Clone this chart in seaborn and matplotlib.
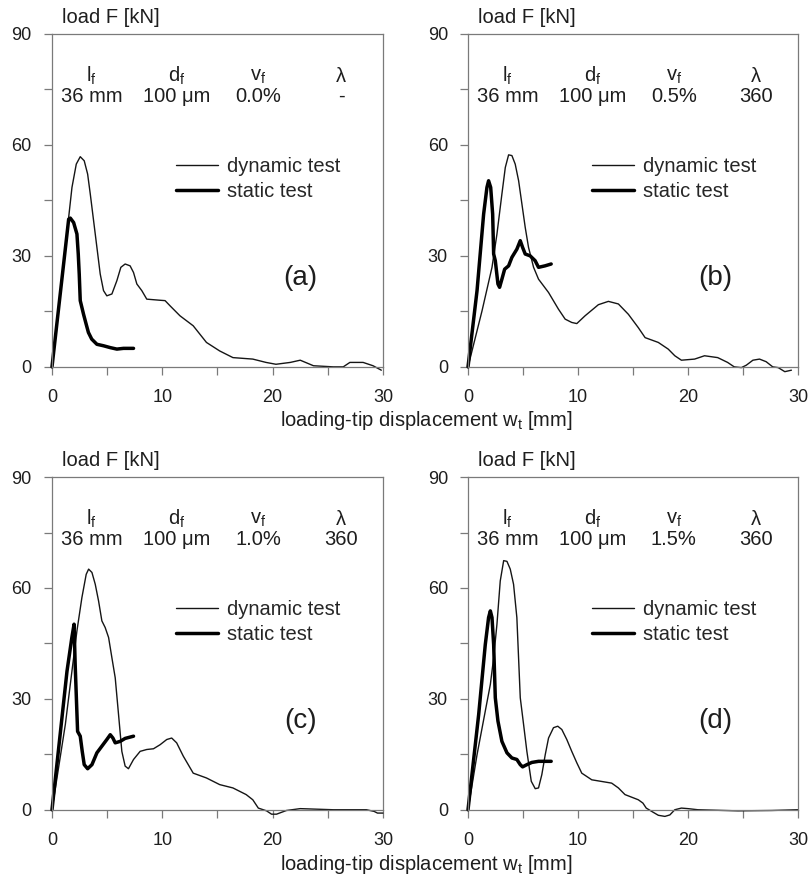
import numpy as np
import pandas as pd
import matplotlib
matplotlib.use("Agg")
import matplotlib.pyplot as plt
from matplotlib.ticker import MultipleLocator
import seaborn as sns

# ---------------- data ----------------
panels = ["(a)", "(b)", "(c)", "(d)"]
vf_labels = ["0.0%", "0.5%", "1.0%", "1.5%"]
lam_labels = ["-", "360", "360", "360"]

dyn_a_x = [0, 1.51, 1.81, 2.2, 2.56, 2.92, 3.23, 3.47, 3.77, 4.07, 4.37, 4.67, 4.97, 5.43, 5.88, 6.24, 6.63, 7.08, 7.39, 7.69, 8.14, 8.59, 9.8, 10.25, 10.7, 11.6, 12.8, 14.0, 15.2, 16.4, 18.2, 19.4, 20.3, 21.6, 22.5, 23.7, 25.5, 26.4, 27.0, 28.2, 29.1, 29.85]
dyn_a_y = [0, 40.4, 48.5, 54.8, 56.8, 55.7, 52.1, 46.7, 39.5, 32.3, 25.1, 20.6, 19.2, 19.7, 23.3, 26.9, 27.8, 27.3, 25.5, 22.4, 20.6, 18.3, 18.0, 17.9, 16.5, 13.8, 11.1, 6.6, 4.3, 2.5, 2.1, 1.2, 0.7, 1.2, 1.8, 0.3, 0, 0, 1.2, 1.2, 0.3, -0.9]
sta_a_x = [0, 1.51, 1.66, 1.96, 2.26, 2.38, 2.47, 2.56, 2.86, 3.1, 3.3, 3.6, 4.07, 4.67, 5.28, 5.88, 6.48, 7.39]
sta_a_y = [0, 39.9, 40.2, 39.0, 35.9, 30.5, 25.0, 17.9, 14.2, 11.5, 9.3, 7.5, 6.1, 5.7, 5.2, 4.8, 5.0, 5.0]

dyn_b_x = [0, 1.27, 2.18, 2.63, 3.08, 3.39, 3.69, 3.99, 4.29, 4.6, 4.9, 5.2, 5.5, 5.96, 6.41, 7.32, 8.22, 8.83, 9.43, 9.89, 10.64, 11.85, 12.76, 13.67, 14.58, 15.48, 16.1, 17.3, 18.2, 18.8, 19.4, 20.6, 21.5, 22.7, 23.6, 24.2, 24.85, 25.3, 25.9, 26.5, 27.1, 27.7, 28.2, 28.8, 29.4]
dyn_b_y = [0, 15.1, 26.9, 35.9, 46.7, 53.9, 57.3, 57.1, 54.8, 50.3, 44.0, 37.7, 32.3, 26.9, 23.7, 20.1, 15.6, 12.9, 12.0, 11.7, 13.8, 16.8, 17.7, 17.0, 14.2, 10.6, 7.9, 6.6, 4.8, 3.0, 1.8, 2.1, 3.0, 2.5, 1.2, 0, -0.2, 0.45, 1.8, 2.1, 1.4, 0, -0.2, -1.3, -0.9]
sta_b_x = [0, 0.82, 1.42, 1.72, 1.87, 2.06, 2.24, 2.33, 2.48, 2.72, 2.87, 3.08, 3.33, 3.69, 3.99, 4.44, 4.75, 4.96, 5.2, 5.65, 6.1, 6.41, 7.0, 7.56]
sta_b_y = [0, 20.6, 41.3, 48.5, 50.3, 48.5, 41.3, 30.5, 28.7, 22.4, 21.5, 23.7, 26.4, 27.3, 29.6, 31.8, 34.1, 32.3, 30.5, 30.0, 28.7, 26.9, 27.3, 27.8]

dyn_c_x = [0, 1.21, 2.26, 2.71, 3.1, 3.32, 3.62, 3.92, 4.22, 4.52, 4.82, 5.13, 5.43, 5.73, 6.03, 6.33, 6.63, 6.93, 7.39, 7.99, 8.59, 9.2, 9.8, 10.4, 10.85, 11.3, 11.9, 12.8, 14.0, 15.2, 16.4, 17.6, 18.2, 18.7, 19.45, 19.9, 20.35, 21.25, 22.5, 25.5, 28.5, 29.2, 29.5, 30.0]
dyn_c_y = [0, 23.1, 48.4, 57.4, 63.7, 65.1, 64.2, 61.0, 56.5, 51.1, 49.3, 46.6, 41.1, 35.7, 25.8, 15.8, 11.8, 11.1, 13.6, 15.8, 16.3, 16.5, 17.6, 19.0, 19.4, 18.1, 14.5, 9.9, 8.6, 6.8, 5.9, 4.1, 2.7, 0.45, -0.3, -1.2, -1.2, -0.2, 0.3, 0, 0, -0.45, -0.9, -0.9]
sta_c_x = [0, 1.36, 1.8, 2.0, 2.1, 2.23, 2.32, 2.56, 2.74, 2.92, 3.23, 3.62, 4.07, 4.52, 4.97, 5.28, 5.52, 5.73, 6.18, 6.63, 7.39]
sta_c_y = [0, 37.5, 46.6, 50.2, 39.3, 28.5, 21.2, 19.9, 15.8, 12.2, 11.1, 12.2, 15.4, 17.2, 19.0, 20.3, 19.4, 18.1, 18.5, 19.3, 19.9]

dyn_d_x = [0, 0.82, 1.57, 2.03, 2.33, 2.63, 2.93, 3.24, 3.54, 3.84, 4.14, 4.44, 4.75, 5.05, 5.35, 5.75, 6.11, 6.41, 6.71, 7.02, 7.32, 7.77, 8.16, 8.53, 8.98, 9.43, 9.89, 10.34, 11.25, 12.46, 13.06, 13.67, 14.27, 15.48, 15.9, 16.2, 16.7, 17.3, 17.9, 18.35, 18.8, 19.4, 20.0, 20.9, 24.55, 27.6, 30.0]
dyn_d_y = [0, 14.9, 26.7, 33.9, 41.1, 50.2, 61.9, 67.4, 67.2, 65.1, 61.0, 52.0, 30.3, 23.1, 15.8, 7.7, 5.7, 5.9, 9.5, 14.9, 19.4, 22.2, 22.6, 21.7, 19.0, 15.8, 12.7, 9.9, 8.1, 7.5, 7.2, 5.9, 4.1, 2.7, 1.8, 0.45, -0.45, -1.5, -1.8, -1.4, 0, 0.45, 0.3, 0, -0.3, -0.2, 0]
sta_d_x = [0, 0.97, 1.57, 1.87, 2.03, 2.18, 2.33, 2.48, 2.72, 3.08, 3.54, 3.99, 4.44, 4.75, 4.96, 5.35, 5.8, 6.41, 7.56]
sta_d_y = [0, 25.8, 44.7, 52.0, 53.8, 52.0, 44.7, 30.3, 24.0, 18.5, 15.4, 14.0, 13.6, 12.2, 11.6, 12.2, 12.8, 13.1, 13.1]

x_ticks = [0, 10, 20, 30]
y_ticks = [0, 30, 60, 90]

dyn_x = [dyn_a_x, dyn_b_x, dyn_c_x, dyn_d_x]
dyn_y = [dyn_a_y, dyn_b_y, dyn_c_y, dyn_d_y]
sta_x = [sta_a_x, sta_b_x, sta_c_x, sta_d_x]
sta_y = [sta_a_y, sta_b_y, sta_c_y, sta_d_y]

# ---------------- style ----------------
sns.set_theme(style="white")
plt.rcParams["font.family"] = ["Liberation Sans", "DejaVu Sans"]
plt.rcParams["mathtext.fontset"] = "custom"
plt.rcParams["mathtext.rm"] = "Liberation Sans"
plt.rcParams["mathtext.default"] = "regular"

FS = 14.5
TFS = 13
txt_col = "#1e1e1e"
spine_col = "#7a7a7a"

fig = plt.figure(figsize=(8.10, 8.84), dpi=100)
positions = [
    [0.0642, 0.585, 0.4086, 0.3767],
    [0.5778, 0.585, 0.4074, 0.3767],
    [0.0642, 0.084, 0.4086, 0.3763],
    [0.5778, 0.084, 0.4074, 0.3763],
]

for i in range(4):
    ax = fig.add_axes(positions[i])
    df = pd.concat([
        pd.DataFrame({"w": dyn_x[i], "F": dyn_y[i], "test": "dynamic test"}),
        pd.DataFrame({"w": sta_x[i], "F": sta_y[i], "test": "static test"}),
    ], ignore_index=True)
    sns.lineplot(data=df, x="w", y="F", hue="test", size="test",
                 sizes={"dynamic test": 1.0, "static test": 2.5},
                 palette={"dynamic test": "#151515", "static test": "#000000"},
                 sort=False, estimator=None, ax=ax)
    for ln in ax.lines:
        ln.set_clip_on(False)
    ax.set_xlim(0, 30)
    ax.set_ylim(0, 90)
    ax.set_xticks(x_ticks)
    ax.set_yticks(y_ticks)
    ax.xaxis.set_minor_locator(MultipleLocator(5))
    ax.yaxis.set_minor_locator(MultipleLocator(15))
    ax.tick_params(which="both", direction="out", color=spine_col, width=0.9,
                   length=5.5, bottom=True, left=True, labelsize=TFS, labelcolor=txt_col)
    ax.tick_params(axis="x", which="both", pad=10.5)
    ax.tick_params(axis="y", which="both", pad=9)
    for s in ax.spines.values():
        s.set_color(spine_col)
        s.set_linewidth(0.9)
    ax.set_xlabel("")
    ax.set_ylabel("")

    ax.legend(loc="upper left", bbox_to_anchor=(0.35, 0.655), frameon=False,
              fontsize=FS, handlelength=2.1, handletextpad=0.45,
              labelspacing=0.32, borderaxespad=0)

    ax.text(0.03, 1.022, "load F [kN]", transform=ax.transAxes, fontsize=FS,
            ha="left", va="bottom", color=txt_col)

    cols_x = [3.6, 11.3, 18.7, 26.2]
    heads = [r"l$_\mathregular{f}$", r"d$_\mathregular{f}$", r"v$_\mathregular{f}$", "λ"]
    vals = ["36 mm", "100 μm", vf_labels[i], lam_labels[i]]
    for cx, h, v in zip(cols_x, heads, vals):
        ax.text(cx, 78.6, h, fontsize=FS, ha="center", va="center", color=txt_col)
        ax.text(cx, 73.2, v, fontsize=FS, ha="center", va="center", color=txt_col)
    ax.text(22.5, 24, panels[i], fontsize=20, ha="center", va="center", color=txt_col)

for yy in [1 - 420 / 884, 1 - 865 / 884]:
    fig.text(0.527, yy, r"loading-tip displacement w$_\mathregular{t}$ [mm]",
             fontsize=FS, ha="center", va="center", color=txt_col)

fig.savefig("out.png", dpi=100)
